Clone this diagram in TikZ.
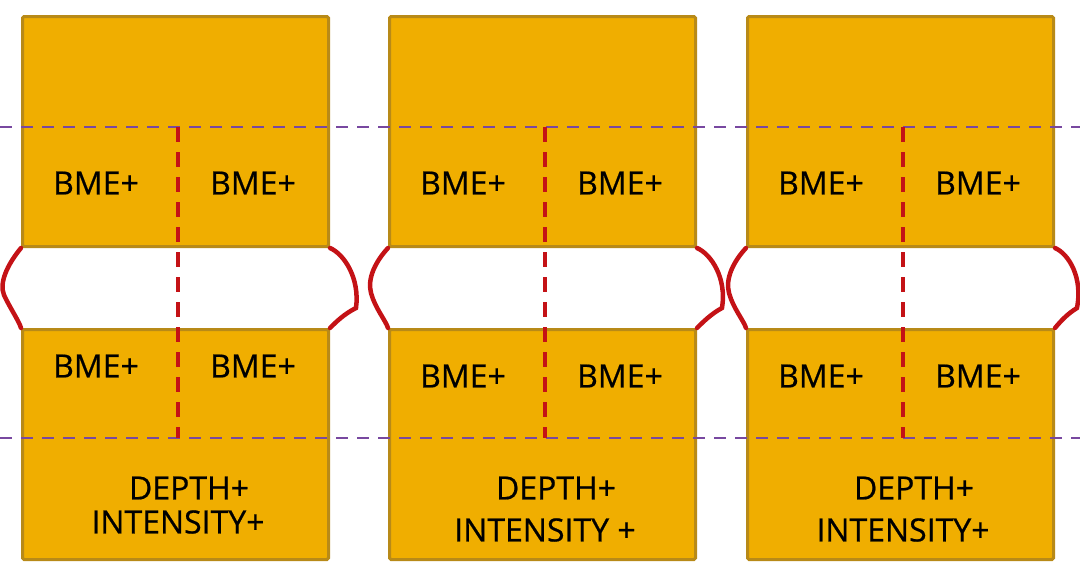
\documentclass[tikz,border=0pt]{standalone}
\usepackage{fontspec}
\setmainfont{Open Sans}
\usepackage{tikz}
\usetikzlibrary{calc}

\definecolor{boxfill}{RGB}{240,174,0}
\definecolor{boxline}{RGB}{184,138,24}
\definecolor{discred}{RGB}{196,18,22}
\definecolor{levelpurple}{RGB}{120,72,160}

\tikzset{
  block/.style={draw=boxline, fill=boxfill, line width=3pt, rounded corners=1.5pt,
    minimum width=306pt, minimum height=230pt, anchor=north west, inner sep=0pt},
  lbl/.style={font=\fontsize{32}{38}\selectfont\addfontfeatures{FakeBold=0.6}, text=black, inner sep=0pt},
  level/.style={levelpurple, line width=2pt, dash pattern=on 12pt off 9pt},
  midline/.style={discred, line width=3.5pt, dash pattern=on 15pt off 10pt},
  disc/.style={discred, line width=4.5pt, line cap=round}
}

\begin{document}
\begin{tikzpicture}[x=1pt, y=-1pt]
    \useasboundingbox (0,0) rectangle (1080,574);

    % Wirbelkoerper (oben / unten)
    \foreach \i/\x in {1/21, 2/388, 3/746} {
        \node[block] (top\i) at (\x,15) {};
        \node[block] (bot\i) at (\x,328) {};
    }

    % Bandscheiben
    \draw[disc] (top1.south west) .. controls ($(top1.south west)+(-14,17)$) and ($(top1.south west)+(-22,35)$) .. ($(top1.south west)+(-17,47)$)
                                  .. controls ($(top1.south west)+(-11,60)$) and ($(top1.south west)+(-2,73)$) .. (bot1.north west);
    \draw[disc] (top1.south east) .. controls ($(top1.south east)+(14,6)$) and ($(top1.south east)+(30,30)$) .. ($(top1.south east)+(26,60)$)
                                  .. controls ($(top1.south east)+(14,66)$) and ($(top1.south east)+(6,74)$) .. (bot1.north east);
    \draw[disc] (top2.south west) .. controls ($(top2.south west)+(-12,13)$) and ($(top2.south west)+(-21,30)$) .. ($(top2.south west)+(-17,45)$)
                                  .. controls ($(top2.south west)+(-13,60)$) and ($(top2.south west)+(-2,73)$) .. (bot2.north west);
    \draw[disc] (top2.south east) .. controls ($(top2.south east)+(14,6)$) and ($(top2.south east)+(30,30)$) .. ($(top2.south east)+(25,60)$)
                                  .. controls ($(top2.south east)+(14,66)$) and ($(top2.south east)+(6,74)$) .. (bot2.north east);
    \draw[disc] (top3.south west) .. controls ($(top3.south west)+(-12,13)$) and ($(top3.south west)+(-21,30)$) .. ($(top3.south west)+(-17,45)$)
                                  .. controls ($(top3.south west)+(-13,60)$) and ($(top3.south west)+(-2,73)$) .. (bot3.north west);
    \draw[disc] (top3.south east) .. controls ($(top3.south east)+(14,6)$) and ($(top3.south east)+(28,30)$) .. ($(top3.south east)+(22,60)$)
                                  .. controls ($(top3.south east)+(12,66)$) and ($(top3.south east)+(5,74)$) .. (bot3.north east);

    % Messebenen
    \coordinate (upL) at (0,127);
    \coordinate (upR) at (1080,127);
    \coordinate (loL) at (0,438);
    \coordinate (loR) at (1080,438);
    \draw[level] (upL) -- (upR);
    \draw[level] (loL) -- (loR);

    % Mittellinien
    \foreach \i/\x in {1/178, 2/545, 3/903} {
        \coordinate (mid\i a) at (\x,127);
        \coordinate (mid\i b) at (\x,438);
        \draw[midline] (mid\i a) -- (mid\i b);
    }

    % Beschriftungen
    \foreach \i/\x/\ly/\iy/\itxt in {1/21/366/522/{INTENSITY+}, 2/388/376/530/{INTENSITY +}, 3/746/376/530/{INTENSITY+}} {
        \node[lbl] (ul\i) at (\x+75,183) {BME+};
        \node[lbl] (ur\i) at (\x+232,183) {BME+};
        \node[lbl] (ll\i) at (\x+75,\ly) {BME+};
        \node[lbl] (lr\i) at (\x+232,\ly) {BME+};
        \node[lbl] (dp\i) at (\x+168,488) {DEPTH+};
        \node[lbl] (in\i) at (\x+157,\iy) {\itxt};
    }
\end{tikzpicture}
\end{document}
